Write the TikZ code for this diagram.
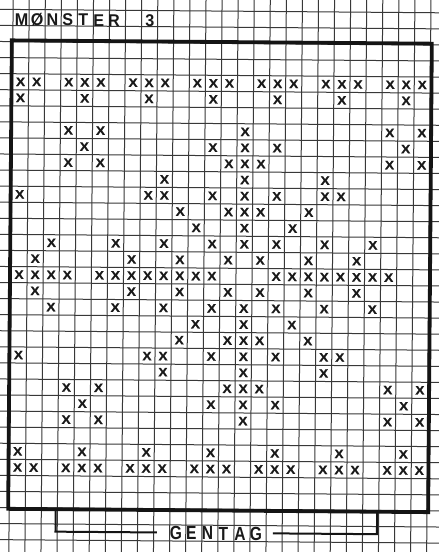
\documentclass[tikz,border=0pt]{standalone}
\usepackage{fontspec}
\setmainfont{Liberation Sans}
\newfontfamily\crossfont{Liberation Sans}[FakeBold=0.8]
\begin{document}
\begin{tikzpicture}[x=1pt,y=-1pt,
  gridline/.style={line width=1pt, black!78},
  frameline/.style={line width=3.8pt, black!92},
  bracketline/.style={line width=2pt, black!92},
  xmark/.style={inner sep=0pt, font=\fontsize{12.2}{12}\crossfont\bfseries, xscale=1.12, text=black!90},
  headletter/.style={inner sep=0pt, anchor=base, font=\fontsize{17}{18}\selectfont\bfseries, xscale=0.95, text=black!90},
  footletter/.style={inner sep=0pt, anchor=base, font=\fontsize{19}{20}\selectfont\bfseries, xscale=0.82, text=black!90}]
\useasboundingbox (0,0) rectangle (439,552);
\fill[white] (0,0) rectangle (439,552);
\clip (0,0) rectangle (439,552);
\begin{scope}[rotate around={-0.45:(219.9,276.2)}]
  % graph paper
  \foreach \k in {-1,...,27}
    \draw[gridline] ({11+16.07*\k},-30) -- ({11+16.07*\k},590);
  \foreach \k in {-3,...,32}
    \draw[gridline] (-30,{43.2+16.07*\k}) -- (470,{43.2+16.07*\k});
  % frame
  \draw[frameline] (10,42) rectangle (430,510.5);
  % title
  \node[headletter] (t1) at (19.7,27) {M};
  \node[headletter] (t2) at (35.1,27) {Ø};
  \node[headletter] (t3) at (50.5,27) {N};
  \node[headletter] (t4) at (65.9,27) {S};
  \node[headletter] (t5) at (81.3,27) {T};
  \node[headletter] (t6) at (96.7,27) {E};
  \node[headletter] (t7) at (112.1,27) {R};
  \node[headletter] (t8) at (148,27) {3};
  % crosses: rows 0..11 and their mirror rows 24..13
  \foreach \r/\cols in {
      0/{0,1,3,4,5,7,8,9,11,12,13,15,16,17,19,20,21,23,24,25},
      1/{0,4,8,12,16,20,24},
      3/{3,5,14,23,25},
      4/{4,12,14,16,24},
      5/{3,5,13,14,15,23,25},
      6/{9,14,19},
      7/{0,8,9,12,14,16,19,20},
      8/{10,13,14,15,18},
      9/{11,14,17},
      10/{2,6,9,12,14,16,19,22},
      11/{1,7,10,13,15,18,21}}{
    \pgfmathtruncatemacro{\rr}{24-\r}
    \foreach \c in \cols {
      \node[xmark] (x-\r-\c) at ({19.04+16.07*\c},{83.4+16.07*\r}) {X};
      \node[xmark] (x-\rr-\c) at ({19.04+16.07*\c},{83.4+16.07*\rr}) {X};
    }
  }
  \foreach \c in {0,1,2,3,5,6,7,8,9,10,11,12,16,17,18,19,20,21,22,23}
    \node[xmark] (x-12-\c) at ({19.04+16.07*\c},{83.4+16.07*12}) {X};
  % repeat bracket
  \coordinate (bl0) at (57.5,510.5);
  \coordinate (bl1) at (57.5,533);
  \coordinate (bl2) at (159,533);
  \coordinate (br0) at (379,510.5);
  \coordinate (br1) at (379,533);
  \coordinate (br2) at (275,533);
  \draw[bracketline] (bl0) -- (bl1) -- (bl2);
  \draw[bracketline] (br0) -- (br1) -- (br2);
  \node[footletter] (g1) at (178,540) {G};
  \node[footletter] (g2) at (193.5,540) {E};
  \node[footletter] (g3) at (209.5,540) {N};
  \node[footletter] (g4) at (225.5,540) {T};
  \node[footletter] (g5) at (242,540) {A};
  \node[footletter] (g6) at (258,540) {G};
\end{scope}
\end{tikzpicture}
\end{document}
